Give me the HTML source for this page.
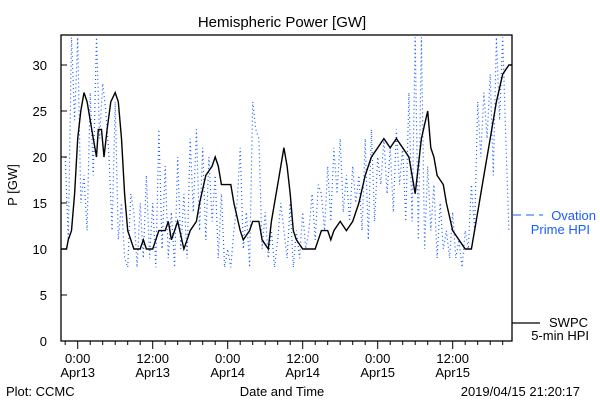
<!DOCTYPE html>
<html><head><meta charset="utf-8"><style>
body{margin:0;background:#fff;}
svg{display:block;font-family:"Liberation Sans",sans-serif;}
</style></head><body>
<svg id="chart" width="600" height="400" viewBox="0 0 600 400">
<defs><clipPath id="clip"><rect x="61" y="35" width="451" height="306"/></clipPath></defs>
<text x="282" y="27" font-size="15" text-anchor="middle">Hemispheric Power [GW]</text>
<g id="series" clip-path="url(#clip)"></g>
<rect x="61" y="35" width="451" height="306" fill="none" stroke="#000" stroke-width="1.3"/>
<g id="axes"></g>
<text transform="translate(17,185) rotate(-90)" font-size="13" text-anchor="middle">P [GW]</text>
<text x="282" y="396" font-size="13" text-anchor="middle">Date and Time</text>
<text x="6" y="396" font-size="13">Plot: CCMC</text>
<text x="580" y="396" font-size="13" text-anchor="end">2019/04/15 21:20:17</text>
<g>
<line x1="513" y1="215" x2="543" y2="215" stroke="#1a5cff" stroke-dasharray="8,5"/>
<text x="596" y="220" font-size="13" fill="#1a5cff" text-anchor="end">Ovation</text>
<text x="590" y="234" font-size="13" fill="#1a5cff" text-anchor="end">Prime HPI</text>
</g>
<g>
<line x1="512" y1="323" x2="540" y2="323" stroke="#000" stroke-width="1.3"/>
<text x="588" y="327" font-size="13" text-anchor="end">SWPC</text>
<text x="589" y="340" font-size="13" text-anchor="end">5-min HPI</text>
</g>
</svg>
<script>
const swpcHours=[-2.7,-1.8,-1.5,-1,-0.5,0,0.5,1,1.5,2,2.5,3,3.3,3.8,4.2,4.7,5.3,6,6.5,7,7.5,8,8.5,9,10,10.5,11,12,12.5,13,14,14.5,15,15.5,16,17,17.5,18,19,19.5,20.5,21.5,22,22.5,23,24.5,25,26,26.5,27.5,28,29,29.5,30.5,31,32,33,33.5,34,34.5,35,36,38,38.5,39,40,40.5,41,42,43,44,45,46,47,48,49,50,51,52,53,53.5,54,55,56,56.5,57,57.5,58.5,59,60,61,62,63,64,65,66,67,68,69,69.6];
const swpcValues=[10,10,11,12,16,22,25,27,26,24,22,20,23,23,20,23,26,27,26,22,16,12,11,10,10,11,10,10,11,12,12,13,11,12,13,10,11,12,13,15,18,19,20,19,17,17,15,12,11,12,13,13,11,10,13,17,21,19,16,12,11,10,10,11,12,12,11,12,13,12,13,15,18,20,21,22,21,22,21,20,18,16,22,25,21,20,18,17,15,12,11,10,10,14,18,22,26,29,30,30];
const ovStart=-2;
const ovValues=[20,11,33,24,33,15,18,12,27,18,33,22,28,25,20,12,26,11,15,9,8,16,14,8,15,9,18,9,15,8,23,10,19,9,14,8,20,10,16,9,22,14,23,12,21,11,20,13,18,9,16,8,10,8,12,15,21,10,14,8,26,23,22,10,14,9,12,8,11,15,12,9,15,8,12,9,14,10,12,16,11,17,16,12,19,13,21,16,22,14,18,13,19,15,18,12,22,11,23,13,20,17,22,16,21,14,23,17,21,13,27,13,33,11,33,10,19,12,17,9,15,10,12,9,14,9,11,8,12,10,17,12,26,20,27,22,29,18,33,24,33,22,12];
const yTicks=[0,5,10,15,20,25,30];
const xMajor=[0,12,24,36,48,60];
const xLabels=[["0:00","Apr13"],["12:00","Apr13"],["0:00","Apr14"],["12:00","Apr14"],["0:00","Apr15"],["12:00","Apr15"]];
const NS="http://www.w3.org/2000/svg";
const X=h=>77.7+h*6.25;
const Y=v=>341-v*9.2;
const ser=document.getElementById('series'),ax=document.getElementById('axes');
function mk(t,a,p){const e=document.createElementNS(NS,t);for(const k in a)e.setAttribute(k,a[k]);p.appendChild(e);return e;}
let d='';ovValues.forEach((v,i)=>{d+=(i?'L':'M')+X(ovStart+i*0.5).toFixed(1)+','+Y(v).toFixed(1);});
const ov=mk('path',{d:d,fill:'none',stroke:'#1a5cff','stroke-width':1.2,'stroke-dasharray':'1,3'},ser);


d='';swpcValues.forEach((v,i)=>{d+=(i?'L':'M')+X(swpcHours[i]).toFixed(1)+','+Y(v).toFixed(1);});
const sw=mk('path',{d:d,fill:'none',stroke:'#000','stroke-width':1.4},ser);


yTicks.forEach(v=>{
 const l=mk('line',{x1:61,x2:67,y1:Y(v),y2:Y(v),stroke:'#000'},ax);
 
 
 const t=mk('text',{x:47,y:Y(v)+5,'font-size':13,'text-anchor':'end'},ax);t.textContent=v;
 
 
});
for(let h=-2;h<=68;h+=2){
 const maj=xMajor.includes(h);
 const l=mk('line',{x1:X(h),x2:X(h),y1:341,y2:maj?349:345,stroke:'#000'},ax);
 
 
}
xMajor.forEach((h,i)=>{
 const t=mk('text',{x:X(h),y:363,'font-size':13,'text-anchor':'middle'},ax);t.textContent=xLabels[i][0];
 
 
 const t2=mk('text',{x:X(h),y:377,'font-size':13,'text-anchor':'middle'},ax);t2.textContent=xLabels[i][1];
 
 
});
</script>
</body></html>
